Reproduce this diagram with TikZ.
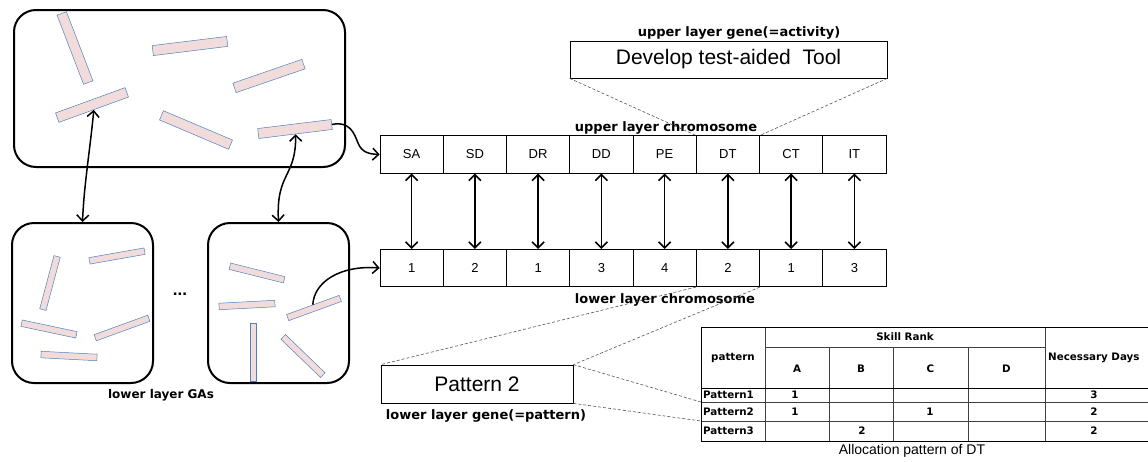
\documentclass[tikz,border=0pt]{standalone}
\usepackage{fontspec}
\setmainfont{Liberation Sans}
\newfontfamily\gothb{DejaVu Sans}
\usetikzlibrary{arrows.meta}
\definecolor{rectfill}{HTML}{F2DCDB}
\definecolor{rectdraw}{HTML}{4F81BD}
\definecolor{dashgray}{HTML}{555555}
\begin{document}
\begin{tikzpicture}[x=1pt,y=-1pt,
  bigbox/.style={draw, line width=2pt, rounded corners=22pt, inner sep=0pt},
  urect/.style={draw=rectdraw, fill=rectfill, line width=0.5pt, minimum height=10pt, inner sep=0pt},
  lrect/.style={draw=rectdraw, fill=rectfill, line width=0.5pt, minimum height=6.5pt, inner sep=0pt},
  cell/.style={draw, line width=0.7pt, minimum width=63.25pt, minimum height=37.5pt, inner sep=0pt, font=\fontsize{13}{15}\selectfont},
  genebox/.style={draw, line width=0.7pt, inner sep=0pt, font=\fontsize{21}{24}\selectfont},
  lbl/.style={inner sep=0pt, font=\gothb\bfseries\fontsize{13}{15}\selectfont},
  tbl/.style={inner sep=0pt, font=\gothb\bfseries\fontsize{10.3}{12}\selectfont},
  conn/.style={line width=1.5pt, -{Straight Barb[length=6pt,width=12pt,line width=1.5pt]}},
  dbl/.style={line width=1.5pt, {Straight Barb[length=6pt,width=12pt,line width=1.5pt]}-{Straight Barb[length=6pt,width=12pt,line width=1.5pt]}},
  dsh/.style={draw=dashgray, line width=0.6pt, dash pattern=on 3pt off 2pt},
  tout/.style={line width=0.9pt},
  tin/.style={line width=0.6pt, draw=black!75}
]
\useasboundingbox (0,0) rectangle (1148,461);

% big boxes
\node[bigbox, minimum width=331pt, minimum height=157pt] (upperGA) at (179.5,88.5) {};
\node[bigbox, minimum width=141pt, minimum height=160pt] (lowGA1) at (82.5,303) {};
\node[bigbox, minimum width=141pt, minimum height=160pt] (lowGA2) at (278.5,303) {};

% upper population
\node[urect, minimum width=74pt, rotate=-69] (u1) at (75,48) {};
\node[urect, minimum width=75pt, rotate=7] (u2) at (190,46) {};
\node[urect, minimum width=73pt, rotate=19] (u3) at (269,76) {};
\node[urect, minimum width=74pt, rotate=20] (u4) at (92,105) {};
\node[urect, minimum width=75pt, rotate=-23] (u5) at (196,130) {};
\node[urect, minimum width=74pt, rotate=7] (u6) at (295,129) {};

% lower population 1
\node[lrect, minimum width=55pt, rotate=75] (la) at (50,283) {};
\node[lrect, minimum width=56pt, rotate=10] (lb) at (117,256) {};
\node[lrect, minimum width=56pt, rotate=-12] (lc) at (49,329) {};
\node[lrect, minimum width=57pt, rotate=20] (ld) at (122,328) {};
\node[lrect, minimum width=56pt, rotate=-3] (le) at (69,356) {};
% lower population 2
\node[lrect, minimum width=56pt, rotate=-14] (lf) at (257,273) {};
\node[lrect, minimum width=56pt, rotate=3] (lg) at (247,305) {};
\node[lrect, minimum width=58pt, rotate=90] (lh) at (253,352) {};
\node[lrect, minimum width=56pt, rotate=20] (li) at (314,308) {};
\node[lrect, minimum width=55pt, rotate=-44] (lj) at (303,356) {};

\node[inner sep=0pt, font=\bfseries\fontsize{17}{17}\selectfont] (dots) at (180,294) {...};
\node[lbl, font=\gothb\bfseries\fontsize{12}{14}\selectfont] (gaslbl) at (161,395) {lower layer GAs};

% chromosomes
\foreach \t [count=\i] in {SA,SD,DR,DD,PE,DT,CT,IT}
  \node[cell] (c\i) at ({380+63.25*(\i-0.5)},154.5) {\t};
\foreach \t [count=\i] in {1,2,1,3,4,2,1,3}
  \node[cell] (p\i) at ({380+63.25*(\i-0.5)},268) {\t};
\foreach \i in {1,...,8}
  \draw[dbl] (c\i.south) -- (p\i.north);

\node[lbl] (uclbl) at (666,128) {upper layer chromosome};
\node[lbl] (lclbl) at (665,300) {lower layer chromosome};

% gene boxes
\node[genebox, minimum width=317pt, minimum height=37pt] (gene) at (728.5,59.5) {Develop test-aided~~Tool};
\node[lbl] (genelbl) at (739,33) {upper layer gene(=activity)};
\node[genebox, minimum width=192pt, minimum height=38pt] (pat) at (477,384) {Pattern 2};
\node[lbl] (patlbl) at (486,416) {lower layer gene(=pattern)};

% dashed zoom lines
\draw[dsh] (gene.south west) -- (c6.north west);
\draw[dsh] (gene.south east) -- (c6.north east);
\draw[dsh] (p6.south west) -- (pat.north west);
\draw[dsh] (p6.south east) -- (pat.north east);
\coordinate (r2top) at (701,402);
\coordinate (r2bot) at (701,421);
\draw[dsh] (pat.north east) -- (r2top);
\draw[dsh] (pat.south east) -- (r2bot);

% connectors from populations
\draw[dbl] (u4.south) .. controls (90,150) and (84,185) .. (lowGA1.north);
\draw[dbl] (u6.south) .. controls (296,178) and (276,172) .. (lowGA2.north);
\draw[conn] (u6.east) .. controls (350,121) and (354,133) .. (358,143) .. controls (362,153) and (370,154) .. (c1.west);
\draw[conn] (li.north) .. controls (314,282) and (340,265) .. (p1.west);

% table
\draw[tin] (765,347) -- (1045,347);
\draw[tin] (829,347) -- (829,441);
\draw[tin] (893,347) -- (893,441);
\draw[tin] (968,347) -- (968,441);
\draw[tin] (701,402) -- (1148,402);
\draw[tin] (701,421) -- (1148,421);
\draw[tin] (765,327) -- (765,441);
\draw[tin] (1045,327) -- (1045,441);
\draw[tout] (701,388) -- (1148,388);
\draw[tout] (1148,327) -- (701,327) -- (701,441) -- (1148,441);

\node[tbl] (thp) at (733,357.5) {pattern};
\node[tbl] (thsr) at (905,337) {Skill Rank};
\node[tbl] (tha) at (797,369) {A};
\node[tbl] (thb) at (861,369) {B};
\node[tbl] (thc) at (930.5,369) {C};
\node[tbl] (thd) at (1006.5,369) {D};
\node[tbl, anchor=west] (thnd) at (1048,357.5) {Necessary Days};
\node[tbl, anchor=west] (r1) at (703,395) {Pattern1};
\node[tbl, anchor=west] (r2) at (703,411.5) {Pattern2};
\node[tbl, anchor=west] (r3) at (703,431) {Pattern3};
\node[tbl] (r1a) at (795,395) {1};
\node[tbl] (r1n) at (1094,395) {3};
\node[tbl] (r2a) at (795,411.5) {1};
\node[tbl] (r2c) at (930,411.5) {1};
\node[tbl] (r2n) at (1094,411.5) {2};
\node[tbl] (r3b) at (862,431) {2};
\node[tbl] (r3n) at (1094,431) {2};
\node[inner sep=0pt, font=\fontsize{14}{16}\selectfont] (alloc) at (912,451) {Allocation pattern of DT};
\end{tikzpicture}
\end{document}
